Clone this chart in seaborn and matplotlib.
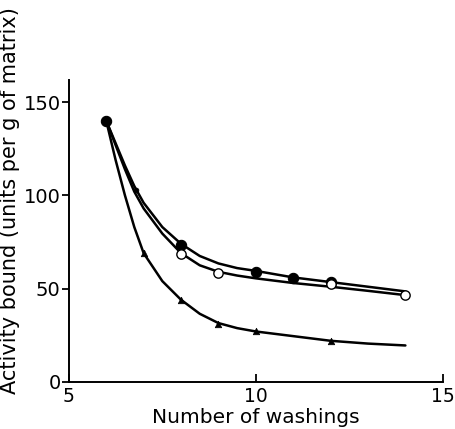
import numpy as np
import pandas as pd
import matplotlib
matplotlib.use("Agg")
import matplotlib.pyplot as plt
import seaborn as sns

# Measured points
filled_x = [6, 8, 10, 11, 12]
filled_y = [140, 73.5, 59, 55.5, 53.8]
open_x = [8, 9, 12, 14]
open_y = [68.5, 58.6, 52.5, 46.8]
tri_x = [7, 8, 9, 10, 12]
tri_y = [69, 44, 31, 27, 22]
mark_x = [6.8]
mark_y = [103]

# Hand-drawn curves
curve_x = [6, 6.25, 6.5, 6.75, 7, 7.5, 8, 8.5, 9, 9.5, 10, 11, 12, 13, 14]
curve_filled = [140, 128, 116, 105, 96, 83, 74, 67.5, 63.5, 61, 59.5, 56, 53.5, 51, 48.5]
curve_open = [140, 127, 114, 102, 93, 79.5, 69, 62.5, 59, 57, 55.5, 53, 51, 48.8, 46.5]
curve_tri = [140, 119, 100, 83, 69, 54, 44, 36.5, 31.5, 28.8, 27, 24.5, 22, 20.5, 19.5]

x_ticks = [5, 10, 15]
y_ticks = [0, 50, 100, 150]

sns.set_theme(style="ticks")
plt.rcParams['font.family'] = ['DejaVu Sans']

fig = plt.figure(figsize=(4.56, 4.29), dpi=100)
ax = fig.add_axes([0.151, 0.110, 0.82, 0.704])

for cy in (curve_filled, curve_open, curve_tri):
    df = pd.DataFrame({"x": curve_x, "y": cy})
    sns.lineplot(data=df, x="x", y="y", ax=ax, color="black", linewidth=1.8, sort=False)

sns.scatterplot(x=filled_x, y=filled_y, ax=ax, color="black", s=55, marker="o",
                edgecolor="black", linewidth=0.8, zorder=5)
sns.scatterplot(x=open_x, y=open_y, ax=ax, facecolor="white", s=45, marker="o",
                edgecolor="black", linewidth=1.0, zorder=5)
sns.scatterplot(x=tri_x, y=tri_y, ax=ax, color="black", s=22, marker="^",
                edgecolor="black", linewidth=0.5, zorder=5)
sns.scatterplot(x=mark_x, y=mark_y, ax=ax, color="black", s=12, marker="o",
                edgecolor="black", linewidth=0.5, zorder=5)

ax.set_xlim(5, 15)
ax.set_ylim(0, 162)
ax.set_xticks(x_ticks)
ax.set_yticks(y_ticks)
ax.set_xticklabels([str(v) for v in x_ticks], fontsize=13.5)
ax.set_yticklabels([str(v) for v in y_ticks], fontsize=14)
ax.tick_params(axis="x", direction="in", length=6, width=1.3, pad=4, colors="black")
ax.tick_params(axis="y", direction="out", length=5, width=1.3, pad=1, colors="black")
for s in ("top", "right"):
    ax.spines[s].set_visible(False)
for s in ("left", "bottom"):
    ax.spines[s].set_linewidth(1.4)
    ax.spines[s].set_color("black")
ax.set_xlabel("Number of washings", fontsize=14.5, color="black")
ax.set_ylabel("Activity bound (units per g of matrix)", fontsize=15, color="black")
ax.xaxis.set_label_coords(0.5, -0.088)
ax.yaxis.set_label_coords(-0.13, 0.6)
for t in ax.get_xticklines() + ax.get_yticklines():
    t.set_clip_on(False)

fig.savefig("out.png", dpi=100)
